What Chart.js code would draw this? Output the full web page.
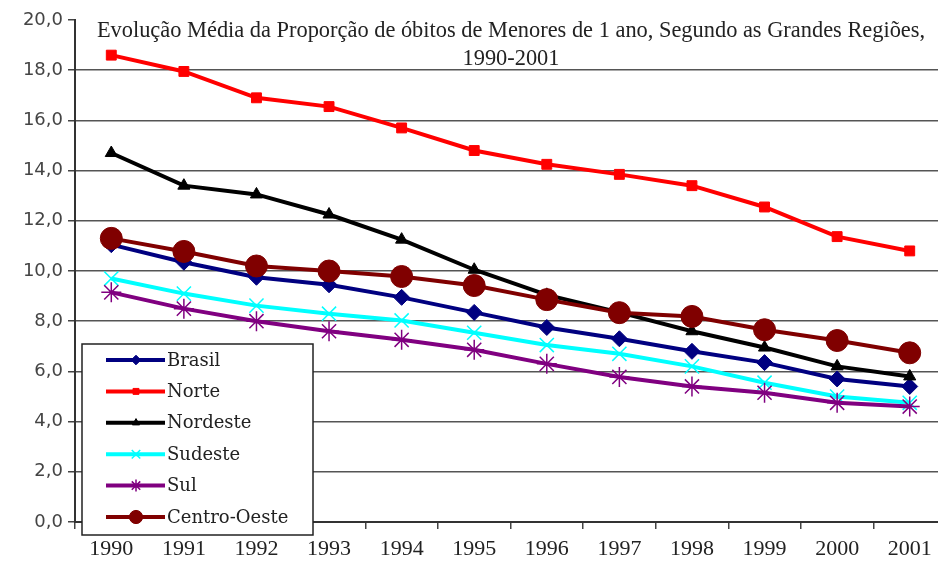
<!DOCTYPE html>
<html>
<head>
<meta charset="utf-8">
<script src="https://cdn.jsdelivr.net/npm/chart.js@4/dist/chart.umd.min.js"></script>
<style>
  html, body { margin: 0; padding: 0; background: #fff; overflow: hidden; }
  canvas { display: block; }
</style>
</head>
<body>
<canvas id="chart" width="938" height="561"></canvas>
<script>
// data
const years = ['1990', '1991', '1992', '1993', '1994', '1995', '1996', '1997', '1998', '1999', '2000', '2001'];
const brasil = [11.05, 10.35, 9.75, 9.45, 8.95, 8.35, 7.75, 7.3, 6.8, 6.35, 5.7, 5.4];
const norte = [18.6, 17.95, 16.9, 16.55, 15.7, 14.8, 14.25, 13.85, 13.4, 12.55, 11.37, 10.8];
const nordeste = [14.7, 13.4, 13.05, 12.25, 11.25, 10.05, 9.05, 8.35, 7.6, 6.95, 6.2, 5.8];
const sudeste = [9.7, 9.1, 8.62, 8.3, 8.03, 7.54, 7.05, 6.7, 6.2, 5.55, 5.0, 4.75];
const sul = [9.15, 8.5, 8.0, 7.6, 7.26, 6.86, 6.3, 5.78, 5.4, 5.15, 4.75, 4.6];
const centroOeste = [11.3, 10.78, 10.2, 10.0, 9.78, 9.42, 8.86, 8.34, 8.19, 7.66, 7.23, 6.74];
const yTicks = [0, 2, 4, 6, 8, 10, 12, 14, 16, 18, 20];
const titleLines = ['Evolução Média da Proporção de óbitos de Menores de 1 ano, Segundo as Grandes Regiões,', '1990-2001'];

const serif = '"Liberation Serif", "Times New Roman", serif';

function series(label, data, color, style, radius, extra) {
    return Object.assign({
        label: label,
        data: data,
        borderColor: color,
        backgroundColor: color,
        pointBackgroundColor: color,
        pointBorderColor: color,
        pointStyle: style,
        pointRadius: radius,
        pointBorderWidth: 1,
        borderWidth: 4,
        tension: 0
    }, extra || {});
}

const datasets = [
    series('Brasil', brasil, '#000080', 'rectRot', 8),
    series('Norte', norte, '#ff0000', 'rect', 7),
    series('Nordeste', nordeste, '#000000', 'triangle', 7),
    series('Sudeste', sudeste, '#00ffff', 'crossRot', 10, { pointBorderWidth: 1.5 }),
    series('Sul', sul, '#800080', 'star', 10, { pointBorderWidth: 1.5 }),
    series('Centro-Oeste', centroOeste, '#800000', 'circle', 11)
];
// excel draws later series on top
datasets.forEach((d, i) => { d.order = datasets.length - i; });

// the original picture is cropped a little on the right: let the plot run past the edge
const widenArea = {
    id: 'widenArea',
    afterLayout(chart) {
        const extra = 8;
        const x = chart.scales.x;
        x.right += extra;
        x.width += extra;
        chart.chartArea.right += extra;
        chart.chartArea.width += extra;
        x.configure();
    }
};

// title + legend box sit inside the plot area
const overlay = {
    id: 'overlay',
    afterDraw(chart) {
        const ctx = chart.ctx;
        ctx.save();

        ctx.fillStyle = '#222';
        ctx.font = '22.4px ' + serif;
        ctx.textAlign = 'center';
        ctx.textBaseline = 'middle';
        ctx.fillText(titleLines[0], 511, 31);
        ctx.fillText(titleLines[1], 511, 59);

        // legend
        const bx = 82, by = 344, bw = 231, bh = 191;
        ctx.fillStyle = '#fff';
        ctx.fillRect(bx, by, bw, bh);
        ctx.strokeStyle = '#222';
        ctx.lineWidth = 1.5;
        ctx.strokeRect(bx, by, bw, bh);

        ctx.textAlign = 'left';
        ctx.font = '18px "DejaVu Serif", serif';
        chart.data.datasets.forEach((ds, i) => {
            const y = 360 + i * 31.4;
            ctx.strokeStyle = ds.borderColor;
            ctx.lineWidth = 4;
            ctx.beginPath();
            ctx.moveTo(106, y);
            ctx.lineTo(165, y);
            ctx.stroke();
            ctx.fillStyle = ds.borderColor;
            ctx.lineWidth = ds.pointBorderWidth;
            Chart.helpers.drawPoint(ctx, {
                pointStyle: ds.pointStyle,
                radius: ds.pointRadius * 0.6,
                borderWidth: ds.pointBorderWidth,
                rotation: 0
            }, 136, y);
            ctx.fillStyle = '#222';
            ctx.fillText(ds.label, 167, y + 1);
        });
        ctx.restore();
    }
};

new Chart(document.getElementById('chart'), {
    type: 'line',
    data: { labels: years, datasets: datasets },
    options: {
        responsive: false,
        animation: false,
        layout: { autoPadding: false, padding: { top: 20, left: 0, right: 0, bottom: 0 } },
        plugins: {
            legend: { display: false },
            title: { display: false },
            tooltip: { enabled: false }
        },
        scales: {
            x: {
                offset: true,
                grid: { drawOnChartArea: false, offset: true, tickLength: 7, tickColor: '#444', lineWidth: 1.5 },
                border: { color: '#333', width: 2 },
                ticks: { font: { family: serif, size: 22 }, color: '#222', padding: 7, maxRotation: 0, autoSkip: false },
                afterFit(scale) {
                    scale.height = 39;
                    scale.paddingLeft = 0;
                    scale.paddingRight = 0;
                }
            },
            y: {
                min: yTicks[0],
                max: yTicks[yTicks.length - 1],
                afterBuildTicks(scale) { scale.ticks = yTicks.map(v => ({ value: v })); },
                grid: {
                    color: c => c.tick && c.tick.value === 20 ? 'rgba(0,0,0,0)' : '#555',
                    tickColor: '#444',
                    lineWidth: 1.5,
                    tickLength: 7
                },
                border: { color: '#333', width: 2 },
                ticks: {
                    font: { family: '"DejaVu Sans", Verdana, sans-serif', size: 18 },
                    color: '#444',
                    padding: 5,
                    callback: v => v.toFixed(1).replace('.', ',')
                },
                afterFit(scale) { scale.width = 75; }
            }
        }
    },
    plugins: [widenArea, overlay]
});
</script>
</body>
</html>
